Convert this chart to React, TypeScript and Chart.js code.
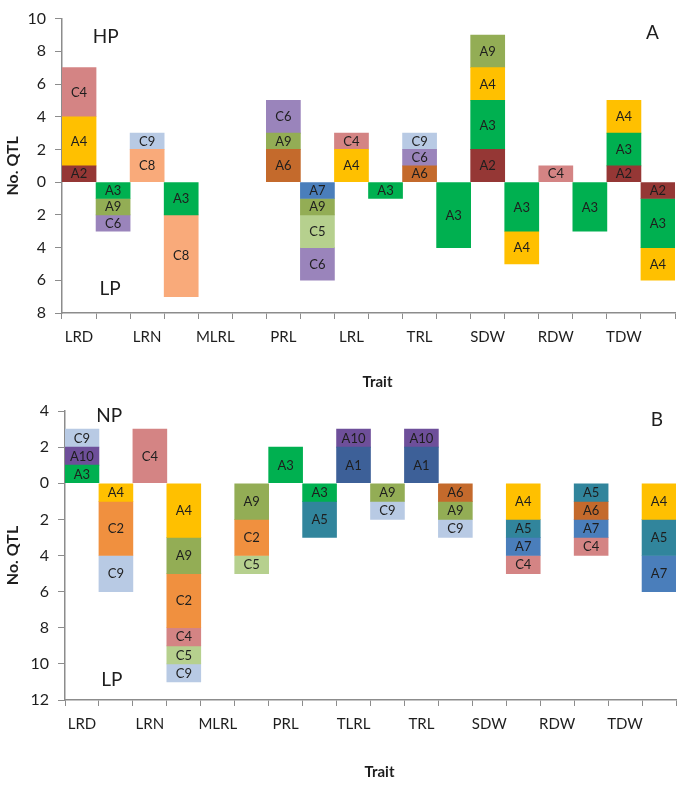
import React, { useEffect, useRef } from "react";
import { Chart, registerables } from "chart.js";

Chart.register(...registerables);

// ---------- data ----------
const TRAITS_A = ["LRD", "LRN", "MLRL", "PRL", "LRL", "TRL", "SDW", "RDW", "TDW"];
const TRAITS_B = ["LRD", "LRN", "MLRL", "PRL", "TLRL", "TRL", "SDW", "RDW", "TDW"];

const N = null;
// 18 slots: for each trait [upper group (HP / NP), lower group (LP, negative)]
// Panel A
const A_A2 = [1, N, N, N, N, N, N, N, N, N, N, N, 2, N, N, N, 1, -1];
const A_A3 = [N, -1, N, -2, N, N, N, N, N, -1, N, -4, 3, -3, N, -3, 2, -3];
const A_A4 = [3, N, N, N, N, N, N, N, 2, N, N, N, 2, -2, N, N, 2, -2];
const A_A6 = [N, N, N, N, N, N, 2, N, N, N, 1, N, N, N, N, N, N, N];
const A_A7 = [N, N, N, N, N, N, N, -1, N, N, N, N, N, N, N, N, N, N];
const A_A9 = [N, -1, N, N, N, N, 1, -1, N, N, N, N, 2, N, N, N, N, N];
const A_C4 = [3, N, N, N, N, N, N, N, 1, N, N, N, N, N, 1, N, N, N];
const A_C5 = [N, N, N, N, N, N, N, -2, N, N, N, N, N, N, N, N, N, N];
const A_C6 = [N, -1, N, N, N, N, 2, -2, N, N, 1, N, N, N, N, N, N, N];
const A_C8 = [N, N, 2, -5, N, N, N, N, N, N, N, N, N, N, N, N, N, N];
const A_C9 = [N, N, 1, N, N, N, N, N, N, N, 1, N, N, N, N, N, N, N];

// Panel B
const B_A1 = [N, N, N, N, N, N, N, N, 2, N, 2, N, N, N, N, N, N, N];
const B_A3 = [1, N, N, N, N, N, 2, -1, N, N, N, N, N, N, N, N, N, N];
const B_A4 = [N, -1, N, -3, N, N, N, N, N, N, N, N, N, -2, N, N, N, -2];
const B_A5 = [N, N, N, N, N, N, N, -2, N, N, N, N, N, -1, N, -1, N, -2];
const B_A6 = [N, N, N, N, N, N, N, N, N, N, N, -1, N, N, N, -1, N, N];
const B_A7 = [N, N, N, N, N, N, N, N, N, N, N, N, N, -1, N, -1, N, -2];
const B_A9 = [N, N, N, -2, N, -2, N, N, N, -1, N, -1, N, N, N, N, N, N];
const B_A10 = [1, N, N, N, N, N, N, N, 1, N, 1, N, N, N, N, N, N, N];
const B_C2 = [N, -3, N, -3, N, -2, N, N, N, N, N, N, N, N, N, N, N, N];
const B_C4 = [N, N, 3, -1, N, N, N, N, N, N, N, N, N, -1, N, -1, N, N];
const B_C5 = [N, N, N, -1, N, -1, N, N, N, N, N, N, N, N, N, N, N, N];
const B_C9 = [1, -2, N, -1, N, N, N, N, N, -1, N, -1, N, N, N, N, N, N];

const COLORS: Record<string, string> = {
  A1: "#3D6098",
  A2: "#953735",
  A3: "#00B050",
  A4: "#FFC000",
  A5: "#31859C",
  A6: "#C46A2C",
  A7: "#4A7EBB",
  A9: "#93AD55",
  A10: "#6E4F9A",
  C2: "#F0903F",
  C4: "#D48484",
  C5: "#B6D08E",
  C6: "#9A84BB",
  C8: "#F9AA7A",
  C9: "#B8CAE4",
};

const SERIES_A: [string, (number | null)[]][] = [
  ["A2", A_A2], ["A3", A_A3], ["A4", A_A4], ["A6", A_A6], ["A7", A_A7], ["A9", A_A9],
  ["C4", A_C4], ["C5", A_C5], ["C6", A_C6], ["C8", A_C8], ["C9", A_C9],
];
const SERIES_B: [string, (number | null)[]][] = [
  ["A1", B_A1], ["A3", B_A3], ["A4", B_A4], ["A5", B_A5], ["A6", B_A6], ["A7", B_A7],
  ["A9", B_A9], ["A10", B_A10], ["C2", B_C2], ["C4", B_C4], ["C5", B_C5], ["C9", B_C9],
];

const FONT = "Lato, 'Open Sans', 'Liberation Sans', sans-serif";
const AXIS = "#8C8C8C";
const TEXT = "#1E1E1E";

type Note = { text: string; idx: number; val: number; size: number };

type PanelProps = {
  w: number;
  h: number;
  traits: string[];
  series: [string, (number | null)[]][];
  yMin: number;
  yMax: number;
  padTop: number;
  padRight: number;
  yAxisW: number;
  xAxisH: number;
  titleY: number;
  notes: Note[];
};

function Panel(p: PanelProps) {
  const ref = useRef<HTMLCanvasElement | null>(null);
  useEffect(() => {
    if (!ref.current) return;
    const labels = p.traits.flatMap((t) => [t, ""]);
    const segLabels = {
      id: "segLabels",
      afterDatasetsDraw(chart: any) {
        const ctx = chart.ctx;
        ctx.save();
        ctx.font = `13px ${FONT}`;
        ctx.fillStyle = TEXT;
        ctx.textAlign = "center";
        ctx.textBaseline = "middle";
        chart.data.datasets.forEach((ds: any, i: number) => {
          const meta = chart.getDatasetMeta(i);
          meta.data.forEach((el: any, j: number) => {
            const v = ds.data[j];
            if (v === null || v === undefined) return;
            const { x, y, base } = el.getProps(["x", "y", "base"], true);
            ctx.fillText(ds.label, x, (y + base) / 2 + 0.5);
          });
        });
        ctx.restore();
      },
    };
    const notes = {
      id: "notes",
      afterDraw(chart: any) {
        const ctx = chart.ctx;
        const xs = chart.scales.x;
        const ys = chart.scales.y;
        ctx.save();
        ctx.fillStyle = TEXT;
        ctx.textAlign = "center";
        ctx.textBaseline = "middle";
        p.notes.forEach((n) => {
          ctx.font = `${n.size}px ${FONT}`;
          ctx.fillText(n.text, xs.getPixelForValue(n.idx), ys.getPixelForValue(n.val));
        });
        const ca = chart.chartArea;
        ctx.font = `bold 15px ${FONT}`;
        ctx.fillText("Trait", (ca.left + ca.right) / 2 + 9, p.titleY);
        ctx.restore();
      },
    };
    const chart = new Chart(ref.current, {
      type: "bar",
      data: {
        labels,
        datasets: p.series.map(([name, data]) => ({
          label: name,
          data,
          backgroundColor: COLORS[name],
          borderWidth: 0,
          barPercentage: 1,
          categoryPercentage: 1,
          stack: "s",
        })),
      },
      options: {
        responsive: false,
        animation: false,
        devicePixelRatio: 1,
        layout: { padding: { top: p.padTop, right: p.padRight, left: 0, bottom: 0 } },
        plugins: { legend: { display: false }, tooltip: { enabled: false } },
        scales: {
          x: {
            stacked: true,
            offset: true,
            grid: {
              display: true,
              drawOnChartArea: false,
              drawTicks: true,
              tickLength: 6,
              color: AXIS,
              lineWidth: 1,
              offset: true,
            },
            border: { display: true, color: AXIS, width: 1.5 },
            ticks: {
              autoSkip: false,
              maxRotation: 0,
              minRotation: 0,
              padding: 9,
              color: TEXT,
              font: { family: FONT, size: 15 },
            },
            afterFit: (s: any) => {
              s.height = p.xAxisH;
            },
          },
          y: {
            stacked: true,
            min: p.yMin,
            max: p.yMax,
            grid: {
              display: true,
              drawOnChartArea: false,
              drawTicks: true,
              tickLength: 7,
              color: AXIS,
              lineWidth: 1,
            },
            border: { display: true, color: AXIS, width: 1.5 },
            ticks: {
              stepSize: 2,
              padding: 9,
              color: TEXT,
              font: { family: FONT, size: 16 },
              callback: (v: any) => String(Math.abs(Number(v))),
            },
            title: {
              display: true,
              text: "No. QTL",
              color: TEXT,
              font: { family: FONT, size: 16, weight: "bold" },
              padding: { top: 3, bottom: 0 },
            },
            afterFit: (s: any) => {
              s.width = p.yAxisW;
            },
          },
        },
      },
      plugins: [segLabels, notes],
    } as any);
    return () => chart.destroy();
  }, []);
  return (
    <canvas
      ref={ref}
      width={p.w}
      height={p.h}
      style={{ display: "block", width: p.w, height: p.h }}
    />
  );
}

export default function App() {
  return (
    <div
      style={{
        position: "absolute",
        left: 0,
        top: 0,
        width: 685,
        height: 788,
        background: "#fff",
      }}
    >
      <Panel
        w={685}
        h={390}
        traits={TRAITS_A}
        series={SERIES_A}
        yMin={-8}
        yMax={10}
        padTop={12}
        padRight={10}
        yAxisW={62}
        xAxisH={77}
        titleY={382}
        notes={[
          { text: "HP", idx: 0.78, val: 8.9, size: 19 },
          { text: "LP", idx: 0.91, val: -6.5, size: 19 },
          { text: "A", idx: 16.84, val: 9.1, size: 19 },
        ]}
      />
      <Panel
        w={685}
        h={398}
        traits={TRAITS_B}
        series={SERIES_B}
        yMin={-12}
        yMax={4}
        padTop={21}
        padRight={9}
        yAxisW={65}
        xAxisH={88}
        titleY={382}
        notes={[
          { text: "NP", idx: 0.8, val: 3.75, size: 19 },
          { text: "LP", idx: 0.88, val: -10.9, size: 19 },
          { text: "B", idx: 16.94, val: 3.5, size: 19 },
        ]}
      />
    </div>
  );
}
